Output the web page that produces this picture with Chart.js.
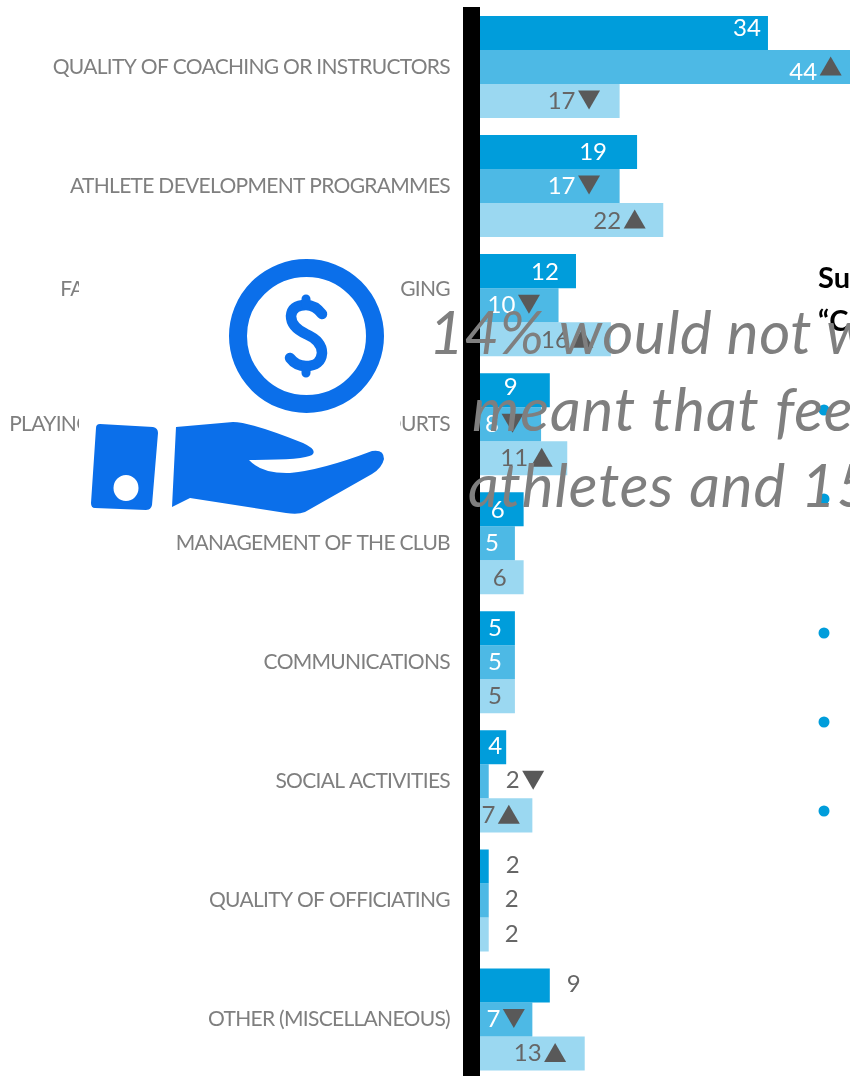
<!DOCTYPE html>
<html>
<head>
<meta charset="utf-8">
<title>Club survey</title>
<script src="https://cdn.jsdelivr.net/npm/chart.js@4"></script>
<style>
  html, body { margin: 0; padding: 0; background: #fff; overflow: hidden; }
  #page { position: relative; width: 850px; height: 1076px; overflow: hidden; }
  #barChart { position: absolute; left: 0; top: 0; }
  #overlay { position: absolute; left: 0; top: 0; }
</style>
</head>
<body>
<div id="page">
  <canvas id="barChart" width="850" height="1079"></canvas>
  <svg id="overlay" width="850" height="1076" viewBox="0 0 850 1076">
    <!-- white backing of the pasted icon, hides the middle of two labels -->
    <rect x="79" y="245" width="321" height="285" fill="#fff"/>
    <g fill="#0b6fea">
      <path fill-rule="evenodd" d="M100 424 L153 427 Q158 428 158 433 L152 505 Q151 510 146 510 L95 508 Q91 508 91 503 L96 428 Q96 424 100 424 Z
        M126 475 A12.5 13 0 1 0 126 501 A12.5 13 0 1 0 126 475 Z"/>
      <path d="M176 427 L233 422 Q250 422 303 443 Q318 450 312 455 Q304 460 249 460 Q262 474 290 473 Q322 470 372 451 Q384 449 384 459 Q382 468 372 474 L305 512 Q298 515 286 513 L190 498 L172 507 Z"/>
    </g>
    <ellipse cx="306.5" cy="336" rx="68.5" ry="68" fill="none" stroke="#0b6fea" stroke-width="18"/>
    <g fill="none" stroke="#0b6fea" stroke-linecap="round" stroke-linejoin="round">
      <path stroke-width="10.5" d="M322 314 Q315 305 306 305 Q292 305 291 316 Q291 327 306 334 Q322 341 322 353 Q321 366 306 366 Q296 366 290 358"/>
      <path stroke-width="9" d="M306 299 L306 305 M306 366 L306 373"/>
    </g>
    <text x="818" y="288" font-family="Lato" font-weight="700" font-size="29" fill="#000">Su</text>
    <text x="818" y="331" font-family="Lato" font-weight="700" font-size="29" fill="#000">“C</text>
    <g fill="#009ddb">
      <circle cx="824" cy="410" r="5.5"/>
      <circle cx="824" cy="499" r="5.5"/>
      <circle cx="824" cy="633" r="5.5"/>
      <circle cx="824" cy="722" r="5.5"/>
      <circle cx="824" cy="811" r="5.5"/>
    </g>
    <g font-family="Lato" font-style="italic" font-size="60" fill="#7f7f7f">
      <text x="429" y="354" letter-spacing="0.5">14% would not w</text>
      <text x="472" y="431" letter-spacing="1">meant that fee</text>
      <text x="468" y="507" letter-spacing="0.9">athletes and 15</text>
    </g>
  </svg>
</div>
<script>
const categories = [
  'QUALITY OF COACHING OR INSTRUCTORS',
  'ATHLETE DEVELOPMENT PROGRAMMES',
  ['FACILITIES, CATERING, BARS & CHANGING', ''],
  'PLAYING FACILITIES, PITCHES, RINK OR COURTS',
  'MANAGEMENT OF THE CLUB',
  'COMMUNICATIONS',
  'SOCIAL ACTIVITIES',
  'QUALITY OF OFFICIATING',
  'OTHER (MISCELLANEOUS)'
];

const seriesOne = [34, 19, 12, 9, 6, 5, 4, 2, 9];
const seriesTwo = [44, 17, 10, 8, 5, 5, 2, 2, 7];
const seriesThree = [17, 22, 16, 11, 6, 5, 7, 2, 13];

const trendTwo = ['up', 'down', 'down', 'down', null, null, 'down', null, 'down'];
const trendThree = ['down', 'up', 'up', 'up', null, null, 'up', null, 'up'];

const barColors = ['#009ddb', '#4db9e5', '#9bd8f1'];
const greyText = '#666666';

// hand placed labels: horizontal shift from the bar end, per series
const labelShiftX = [
  [-21, -44, -31, -39, -26, -20, -11, 24, 24],
  [-52, -58, -57, -49, -23, -20, 24, 23, -39],
  [-58, -56, -56, -53, -24, -20, -44, 23, -57]
];
const labelShiftY = [
  [-5, 0, 1, -3, 1, 0, -1, -1, -1],
  [5, 0, 0, 0, 0, 0, -1, -1, 0],
  [0, 1, 1, 0, 1, 0, 0, 0, 0]
];

// thick black rule left of the value axis, tightens the axis label spacing too
const axisRule = {
  id: 'axisRule',
  beforeDraw(chart) {
    chart.ctx.letterSpacing = '-0.7px';
  },
  beforeDatasetsDraw(chart) {
    const { ctx, chartArea } = chart;
    ctx.save();
    ctx.fillStyle = '#000';
    ctx.fillRect(chartArea.left - 17, chartArea.top - 0.5, 17, chartArea.bottom - chartArea.top + 1);
    ctx.restore();
  }
};

function drawTriangle(ctx, cx, cy, dir) {
  const w = 11;
  const h = 9.5;
  const s = dir === 'up' ? 1 : -1;
  ctx.beginPath();
  ctx.moveTo(cx - w, cy + h * s);
  ctx.lineTo(cx + w, cy + h * s);
  ctx.lineTo(cx, cy - h * s);
  ctx.closePath();
  ctx.fill();
}

// value labels plus the up/down trend arrows
const valueLabels = {
  id: 'valueLabels',
  afterDatasetsDraw(chart) {
    const ctx = chart.ctx;
    ctx.save();
    ctx.letterSpacing = '0px';
    ctx.font = '24px Lato';
    ctx.textAlign = 'center';
    ctx.textBaseline = 'middle';
    chart.data.datasets.forEach((ds, i) => {
      const bars = chart.getDatasetMeta(i).data;
      bars.forEach((bar, j) => {
        const dx = labelShiftX[i][j];
        const x = bar.x + dx;
        const y = bar.y + labelShiftY[i][j];
        const text = String(ds.data[j]);
        ctx.fillStyle = (i < 2 && dx < 0) ? '#fff' : greyText;
        ctx.fillText(text, x, y);
        if (ds.trend && ds.trend[j]) {
          ctx.fillStyle = '#595959';
          drawTriangle(ctx, x + ctx.measureText(text).width / 2 + 13.5, bar.y - 1, ds.trend[j]);
        }
      });
    });
    ctx.restore();
  }
};

const ctx = document.getElementById('barChart').getContext('2d');
new Chart(ctx, {
  type: 'bar',
  data: {
    labels: categories,
    datasets: [
      { label: 'Series 1', data: seriesOne, backgroundColor: barColors[0] },
      { label: 'Series 2', data: seriesTwo, backgroundColor: barColors[1], trend: trendTwo },
      { label: 'Series 3', data: seriesThree, backgroundColor: barColors[2], trend: trendThree }
    ]
  },
  plugins: [axisRule, valueLabels],
  options: {
    indexAxis: 'y',
    responsive: false,
    animation: false,
    layout: { padding: { top: 7.5 } },
    datasets: { bar: { barPercentage: 1, categoryPercentage: 0.857 } },
    plugins: {
      legend: { display: false },
      title: { display: false },
      tooltip: { enabled: false }
    },
    scales: {
      x: { display: false, min: 1, max: 43.4, grid: { display: false } },
      y: {
        afterFit(scale) {
          scale.width = 480;
          scale.paddingTop = 0;
          scale.paddingBottom = 0;
        },
        grid: { display: false, drawTicks: false },
        border: { display: false },
        ticks: {
          autoSkip: false,
          padding: 30,
          labelOffset: 0,
          color: '#7f7f7f',
          font: { family: 'Lato', size: 21, lineHeight: 1.5 }
        }
      }
    }
  }
});
</script>
</body>
</html>
